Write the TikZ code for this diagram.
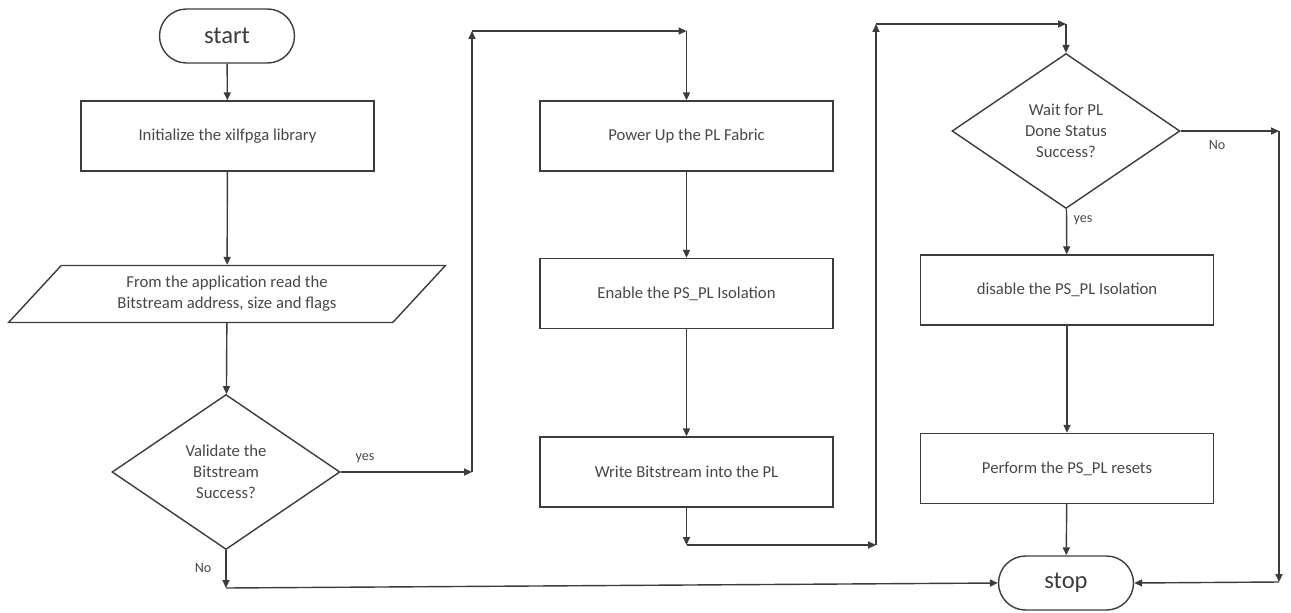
\documentclass[tikz,border=0pt]{standalone}
\usepackage{fontspec}
\setmainfont{Carlito}
\usepackage{tikz}
\usetikzlibrary{arrows.meta, shapes.geometric, shapes.misc}
\definecolor{ink}  {HTML}{3C3C3C}
\definecolor{muted}{HTML}{474747}

\tikzset{
  stepbox/.style={draw=ink, line width=0.8pt, minimum width=5.86cm, minimum height=1.4cm,
    inner sep=0pt, text=muted, font=\fontsize{9.5}{12}\selectfont},
  termbox/.style={draw=ink, line width=0.8pt, rounded rectangle, minimum width=2.7cm,
    minimum height=1.08cm, inner sep=0pt, text=ink, font=\fontsize{14}{16}\selectfont},
  condbox/.style={draw=ink, line width=0.8pt, diamond, minimum width=4.56cm, minimum height=3.1cm,
    inner sep=0pt, align=center, text=muted, font=\fontsize{9.5}{12}\selectfont},
  iobox/.style={draw=ink, line width=0.8pt, trapezium, trapezium left angle=34, trapezium right angle=146,
    trapezium stretches body, minimum width=8.74cm, minimum height=1.14cm, inner sep=0pt,
    align=center, text=muted, font=\fontsize{9.5}{12}\selectfont},
  flow/.style={draw=ink, line width=0.8pt, -{Triangle[length=4.5pt,width=4pt]}},
  tag/.style={text=muted, font=\fontsize{8}{10}\selectfont}
}

\begin{document}
\begin{tikzpicture}[x=0.02cm, y=-0.02cm]
  \useasboundingbox (0,0) rectangle (1291,612);

  \node[termbox] (start)   at (227,36)    {start};
  \node[stepbox] (init)    at (227.5,136) {Initialize the xilfpga library};
  \node[iobox]   (read)    at (227,294)   {From the application read the\\Bitstream address, size and flags};
  \node[condbox] (valid)   at (226,472)   {Validate the\\Bitstream\\Success?};

  \node[stepbox] (power)   at (686.5,136) {Power Up the PL Fabric};
  \node[stepbox] (enable)  at (686.5,293.5) {Enable the PS\_PL Isolation};
  \node[stepbox] (write)   at (686.5,472) {Write Bitstream into the PL};

  \node[condbox] (wait)    at (1066,131)  {Wait for PL\\Done Status\\Success?};
  \node[stepbox] (disable) at (1067,290)  {disable the PS\_PL Isolation};
  \node[stepbox] (reset)   at (1067,468.5) {Perform the PS\_PL resets};
  \node[termbox] (stop)    at (1066,583)  {stop};

  \coordinate (yesA) at (472,472);
  \coordinate (yesB) at (472,31);
  \coordinate (yesC) at (686.5,31);
  \coordinate (wrA)  at (686.5,545);
  \coordinate (wrB)  at (876,545);
  \coordinate (wrC)  at (876,24);
  \coordinate (wrD)  at (1066,24);
  \coordinate (noA)  at (1279,131);
  \coordinate (noB)  at (1279,582);
  \coordinate (noC)  at (226,588);

  \draw[flow] (start) -- (init);
  \draw[flow] (init) -- (read);
  \draw[flow] (read) -- (valid);
  \draw[flow] (valid.east) -- (yesA);
  \draw[flow] (yesA) -- (yesB);
  \draw[flow] (yesB) -- (yesC);
  \draw[flow] (yesC) -- (power);
  \draw[flow] (power) -- (enable);
  \draw[flow] (enable) -- (write);
  \draw[flow] (write) -- (wrA);
  \draw[flow] (wrA) -- (wrB);
  \draw[flow] (wrB) -- (wrC);
  \draw[flow] (wrC) -- (wrD);
  \draw[flow] (wrD) -- (wait);
  \draw[flow] (wait) -- (disable);
  \draw[flow] (disable) -- (reset);
  \draw[flow] (reset) -- (stop);
  \draw[flow] (wait.east) -- (noA);
  \draw[flow] (noA) -- (noB);
  \draw[flow] (noB) -- (stop.east);
  \draw[flow] (valid.south) -- (noC);
  \draw[flow] (noC) -- (stop.west);

  \node[tag] (yesL)  at (365,458)  {yes};
  \node[tag] (noL)   at (203,568)  {No};
  \node[tag] (yesR)  at (1083,220) {yes};
  \node[tag] (noR)   at (1217,145) {No};
\end{tikzpicture}
\end{document}
